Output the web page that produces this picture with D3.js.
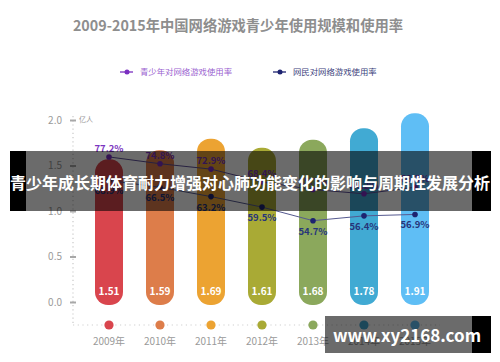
<!DOCTYPE html>
<html><head><meta charset="utf-8">
<script src="https://cdn.jsdelivr.net/npm/d3@7"></script>
<style>body{margin:0;background:#fff}svg{display:block}text{font-family:"Noto Sans CJK SC","Noto Sans",sans-serif}</style>
</head><body><svg id="c" width="500" height="362"></svg>
<script>
const years = ["2009年","2010年","2011年","2012年","2013年","2014年","2015年"];
const userScale = [1.51,1.59,1.69,1.61,1.68,1.78,1.91];
const youthRate = [77.2,74.8,72.9,68.4,65.7,64.2,66.5];
const netRate = [68.9,66.5,63.2,59.5,54.7,56.4,56.9];
const barColors = ["#d9454d","#dd7d4a","#eca332","#a9aa35","#8ba85c","#41aad3","#5fbef5"];
const yTicks = [0,0.5,1.0,1.5,2.0];
const titleText = "2009-2015年中国网络游戏青少年使用规模和使用率";
const legendNames = ["青少年对网络游戏使用率","网民对网络游戏使用率"];
const unitText = "亿人";
const bannerText = "青少年成长期体育耐力增强对心肺功能变化的影响与周期性发展分析";
const watermarkText = "www.xy2168.com";

const svg = d3.select("#c");
const purple = "#7a2fc0", navy = "#1d2370";

const x = d3.scalePoint().domain(years).range([109,415]);
const yAx = d3.scaleLinear().domain([0,2]).range([302,120]);
const barY = d3.scaleLinear().domain([0,2]).range([333,103]);
const pctY = d3.scaleLinear().domain([50,80]).range([234,149]);

// title
svg.append("text").attr("x",238).attr("y",31).attr("text-anchor","middle")
  .attr("font-size",14.3).attr("font-weight","bold").attr("fill","#8e8e8e").text(titleText);

// legend
const legend = [{name:legendNames[0],c:purple,tc:"#9a5fd0",x:120},{name:legendNames[1],c:navy,tc:"#3c3f7c",x:273}];
legend.forEach(l=>{
  const g = svg.append("g").attr("transform",`translate(${l.x},72)`);
  g.append("line").attr("x1",0).attr("x2",13).attr("stroke",l.c).attr("stroke-width",1.3);
  g.append("circle").attr("cx",7).attr("r",2.5).attr("fill",l.c);
  g.append("text").attr("x",20).attr("y",3).attr("font-size",8.4).attr("fill",l.tc).text(l.name);
});

// y axis
const axisX = 73;
svg.append("line").attr("x1",axisX).attr("x2",axisX).attr("y1",116).attr("y2",325)
  .attr("stroke","#c8c8c8").attr("stroke-width",1.2).attr("stroke-dasharray","1.2,3");
const ax = svg.append("g").attr("transform",`translate(${axisX},0)`)
  .call(d3.axisLeft(yAx).tickValues(yTicks).tickFormat(d3.format(".1f")).tickSize(3).tickPadding(8));
ax.select(".domain").remove();
ax.selectAll(".tick line").attr("x1",-3).attr("x2",3).attr("stroke","#a8a8a8").attr("stroke-width",2);
ax.selectAll(".tick text").attr("font-size",10).attr("fill","#9a9a9a")
  .attr("font-family","'Noto Sans','DejaVu Sans',sans-serif");
svg.append("text").attr("x",79).attr("y",122).attr("font-size",7).attr("fill","#999").text(unitText);

// bottom dotted line
svg.append("line").attr("x1",axisX).attr("x2",440).attr("y1",325).attr("y2",325)
  .attr("stroke","#cfcfcf").attr("stroke-width",1.2).attr("stroke-dasharray","1.2,3.5");

// bars
const bw = 28, base = yAx(0)+3;
svg.append("g").selectAll("rect").data(userScale).join("rect")
  .attr("x",(d,i)=>x(years[i])-bw/2).attr("width",bw)
  .attr("y",d=>barY(d)).attr("height",d=>base-barY(d))
  .attr("rx",13).attr("fill",(d,i)=>barColors[i]);
svg.append("g").selectAll("text").data(userScale).join("text")
  .attr("x",(d,i)=>x(years[i])).attr("y",yAx(0)-7).attr("text-anchor","middle")
  .attr("font-size",10).attr("font-weight","bold").attr("fill","#fff")
  .attr("font-family","'Noto Sans','DejaVu Sans',sans-serif").text(d=>d.toFixed(2));

// bottom dots and year labels
svg.append("g").selectAll("circle").data(years).join("circle")
  .attr("cx",d=>x(d)).attr("cy",325).attr("r",4.6).attr("fill",(d,i)=>barColors[i]);
svg.append("g").selectAll("text").data(years).join("text")
  .attr("x",d=>x(d)).attr("y",345).attr("text-anchor","middle")
  .attr("font-size",10).attr("fill","#9a9a9a").text(d=>d);

// lines
const line = d3.line().x((d,i)=>x(years[i])).y(d=>pctY(d));
svg.append("path").datum(youthRate).attr("d",line).attr("fill","none").attr("stroke","#5e4f9a").attr("stroke-width",1);
svg.append("path").datum(netRate).attr("d",line).attr("fill","none").attr("stroke","#55598f").attr("stroke-width",1);
svg.append("g").selectAll("circle").data(youthRate).join("circle")
  .attr("cx",(d,i)=>x(years[i])).attr("cy",d=>pctY(d)).attr("r",2.8).attr("fill",purple);
svg.append("g").selectAll("circle").data(netRate).join("circle")
  .attr("cx",(d,i)=>x(years[i])).attr("cy",d=>pctY(d)).attr("r",2.8).attr("fill",navy);
svg.append("g").selectAll("text").data(youthRate).join("text")
  .attr("x",(d,i)=>x(years[i])).attr("y",d=>pctY(d)-5).attr("text-anchor","middle")
  .attr("font-size",9.5).attr("font-weight","bold").attr("fill","#7b35c0")
  .attr("font-family","'Noto Sans','DejaVu Sans',sans-serif").text(d=>d.toFixed(1)+"%");
svg.append("g").selectAll("text").data(netRate).join("text")
  .attr("x",(d,i)=>x(years[i])).attr("y",d=>pctY(d)+14).attr("text-anchor","middle")
  .attr("font-size",9.5).attr("font-weight","bold").attr("fill","#27357a")
  .attr("font-family","'Noto Sans','DejaVu Sans',sans-serif").text(d=>d.toFixed(1)+"%");

// overlay banner
svg.append("rect").attr("x",26).attr("y",151).attr("width",446).attr("height",60).attr("fill","rgba(0,0,0,0.58)");
svg.append("rect").attr("x",10).attr("y",151).attr("width",16).attr("height",60).attr("fill","#000");
svg.append("rect").attr("x",472).attr("y",151).attr("width",19).attr("height",60).attr("fill","#000");
svg.append("text").attr("x",250).attr("y",189).attr("text-anchor","middle").attr("font-size",16)
  .attr("font-weight","bold").attr("fill","#fff").text(bannerText);

// watermark
svg.append("rect").attr("x",325).attr("y",316).attr("width",147).attr("height",37).attr("fill","rgba(0,0,0,0.58)");
svg.append("rect").attr("x",472).attr("y",316).attr("width",19).attr("height",37).attr("fill","#000");
svg.append("text").attr("x",407).attr("y",342).attr("text-anchor","middle").attr("font-size",17)
  .attr("font-weight","bold").attr("fill","#fff")
  .attr("font-family","'Open Sans','DejaVu Sans',sans-serif").text(watermarkText);
</script></body></html>
